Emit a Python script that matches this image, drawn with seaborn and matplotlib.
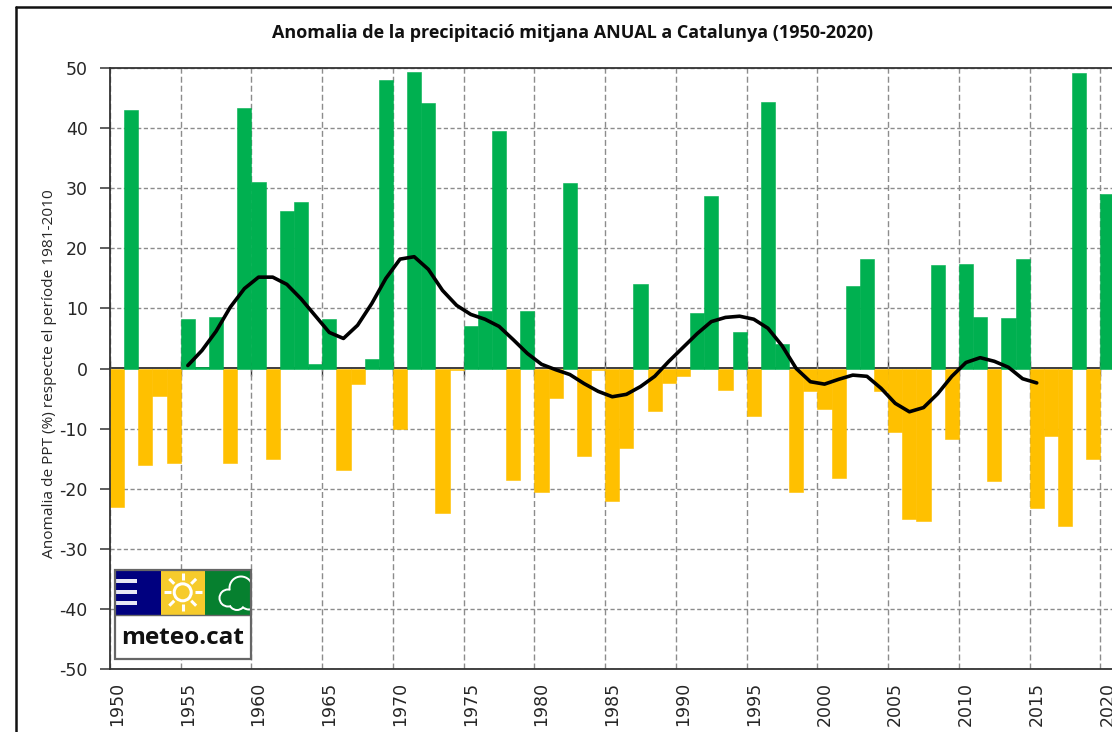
import numpy as np
import pandas as pd
import matplotlib
matplotlib.use("Agg")
import matplotlib.pyplot as plt
import seaborn as sns
from matplotlib.lines import Line2D
from matplotlib.patches import Circle, Rectangle

years = list(range(1950, 2021))
anomaly = [
    -23, 43, -16, -4.5, -15.7, 8.3, 0.3, 8.5, -15.8, 43.3,
    31, -15, 26.2, 27.7, 0.8, 8.3, -16.9, -2.5, 1.6, 48,
    -10, 49.3, 44.2, -24, -0.2, 7, 9.5, 39.6, -18.6, 9.5,
    -20.6, -4.9, 30.8, -14.5, -0.2, -22, -13.2, 14.1, -7, -2.4,
    -1.3, 9.3, 28.7, -3.6, 6, -7.9, 44.3, 4, -20.5, -3.8,
    -6.7, -18.3, 13.8, 18.2, -3.7, -10.6, -25, -25.3, 17.2, -11.7,
    17.4, 8.5, -18.7, 8.4, 18.3, -23.2, -11.2, -26.2, 49.1, -15,
    29,
]

smooth_years = list(range(1955, 2016))
smooth = [
    0.5, 3, 6.2, 10.2, 13.3, 15.2, 15.2, 14, 11.6, 8.8,
    6, 5, 7.2, 10.8, 15, 18.2, 18.6, 16.5, 13, 10.5,
    9, 8.2, 7, 4.8, 2.5, 0.7, -0.2, -1, -2.5, -3.8,
    -4.7, -4.3, -3, -1.3, 1.2, 3.5, 5.8, 7.8, 8.5, 8.7,
    8.2, 6.7, 3.8, 0, -2.2, -2.6, -1.8, -1.1, -1.3, -3.3,
    -5.8, -7.2, -6.5, -4.2, -1.3, 1, 1.8, 1.2, 0.2, -1.7,
    -2.4,
]

label_years = list(range(1950, 2021, 5))
y_ticks = list(range(-50, 51, 10))

W, H = 1112, 732

sns.set_theme(style="white")
plt.rcParams['font.family'] = ['Open Sans', 'DejaVu Sans']

df = pd.DataFrame({"year": years, "anomaly": anomaly})
df["sign"] = np.where(df["anomaly"] >= 0, "pos", "neg")

fig = plt.figure(figsize=(W / 100, H / 100), dpi=100)
ax = fig.add_axes([110 / W, 1 - 669 / H, (W - 110) / W, (669 - 68) / H])

sns.barplot(data=df, x="year", y="anomaly", hue="sign", native_scale=True, dodge=False,
            width=1, palette={"pos": "#00b050", "neg": "#ffc000"}, legend=False,
            saturation=1, linewidth=0, ax=ax, zorder=2)
# close the hairline seams between neighbouring bars
for p in ax.patches:
    p.set_edgecolor(p.get_facecolor())
    p.set_linewidth(0.4)
sns.lineplot(x=smooth_years, y=smooth, color="black", lw=2.6, ax=ax, zorder=3,
             solid_capstyle="round")

ax.set_xlim(1949.5, 2020.32)
ax.set_ylim(-50, 50)
ax.set_xlabel("")
ax.set_ylabel("Anomalia de PPT (%) respecte el període 1981-2010", fontsize=11.1,
              color="#262626", labelpad=2, y=0.492)

# gridlines sit on the category edges, labels on the centres
edges = [y - 0.5 for y in label_years]
ax.set_xticks(label_years)
ax.set_xticklabels(label_years, rotation=90, fontsize=12.5, color="#262626",
                   family="DejaVu Sans")
ax.set_xticks(edges, minor=True)
ax.set_yticks(y_ticks)
ax.set_yticklabels(y_ticks, fontsize=12.5, color="#262626", family="DejaVu Sans")
ax.set_axisbelow(True)
ax.grid(True, axis="x", which="minor", ls=(0, (4.3, 2.2)), color="#8c8c8c", lw=1)
ax.grid(True, axis="y", which="major", ls=(0, (3, 1.8)), color="#8c8c8c", lw=1)
ax.get_ygridlines()[y_ticks.index(0)].set_visible(False)
ax.tick_params(axis="x", which="both", length=0, pad=9)
ax.tick_params(axis="y", length=7, width=1.1, color="#333333", left=True, pad=9)

ax.spines["right"].set_visible(False)
for side in ["top", "left", "bottom"]:
    ax.spines[side].set_color("#333333")
    ax.spines[side].set_linewidth(1.3)

# axis line at zero with its own ticks
zero = ax.secondary_xaxis(0.5)
zero.set_xticks(edges, labels=[])
zero.tick_params(axis="x", length=5, width=1, color="#333333", bottom=True)
zero.spines["bottom"].set_color("#333333")
zero.spines["bottom"].set_linewidth(1.3)

fig.text(573 / W, 1 - 33 / H, "Anomalia de la precipitació mitjana ANUAL a Catalunya (1950-2020)",
         ha="center", va="center", fontsize=13, fontweight="bold", color="#111111")

# chart frame, cut by the screenshot on the right and bottom
fig.add_artist(Line2D([16 / W, 16 / W], [0, 1 - 7 / H], color="#111111", lw=1.8))
fig.add_artist(Line2D([16 / W, 1], [1 - 7 / H, 1 - 7 / H], color="#111111", lw=1.8))

# meteo.cat logo
logo = fig.add_axes([115 / W, 1 - 659 / H, 136 / W, 89 / H], zorder=5)
logo.set_xlim(0, 136)
logo.set_ylim(89, 0)
logo.axis("off")
logo.add_patch(Rectangle((0, 0), 136, 89, fc="white", ec="none"))
logo.add_patch(Rectangle((0, 0), 46, 45, fc="#00007f", ec="none"))
logo.add_patch(Rectangle((46, 0), 44, 45, fc="#f6cb2c", ec="none"))
logo.add_patch(Rectangle((90, 0), 46, 45, fc="#06802f", ec="none"))
for sy in [11, 22, 33]:
    logo.add_patch(Rectangle((0, sy - 2), 22, 4, fc="#e8e8f4", ec="none"))
sun_x, sun_y = 67.7, 22.3
for ang in np.deg2rad(np.arange(0, 360, 45)):
    logo.plot([sun_x + 12 * np.cos(ang), sun_x + 19 * np.cos(ang)],
              [sun_y + 12 * np.sin(ang), sun_y + 19 * np.sin(ang)],
              color="white", lw=2.2, solid_capstyle="butt")
logo.add_patch(Circle((sun_x, sun_y), 8.5, fc="#f6cb2c", ec="white", lw=2.2))
cloud = [(126, 18, 11), (113, 28, 8), (122, 32, 7.5), (134, 30, 9)]
for cx, cy, r in cloud:
    logo.add_patch(Circle((cx, cy), r + 1.5, fc="white", ec="none"))
for cx, cy, r in cloud + [(123, 26, 10)]:
    logo.add_patch(Circle((cx, cy), r - 0.5, fc="#06802f", ec="none"))
logo.add_patch(Rectangle((0, 0), 136, 89, fc="none", ec="#666666", lw=1.6, clip_on=False))
logo.plot([0, 136], [45, 45], color="#666666", lw=1)
logo.text(68, 67.5, "meteo.cat", ha="center", va="center", fontsize=17.6, fontweight="bold",
          color="#111111")

fig.savefig("out.png", dpi=100)
